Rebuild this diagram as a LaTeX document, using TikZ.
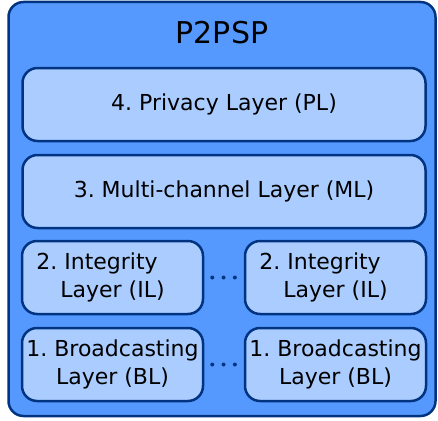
\documentclass[tikz,border=0pt]{standalone}
\usepackage{fontspec}
\setmainfont{DejaVu Sans}
\usepackage{tikz}
\usetikzlibrary{positioning}
\definecolor{stackblue}{RGB}{85,153,255}
\definecolor{layerblue}{RGB}{170,204,255}
\definecolor{edgenavy}{RGB}{0,51,128}

\begin{document}
\frenchspacing
\begin{tikzpicture}[x=1pt, y=1pt,
  stack/.style={rectangle, draw=edgenavy, line width=2.5pt, fill=stackblue,
                rounded corners=15pt, minimum width=427pt, minimum height=414pt},
  layer/.style={rectangle, draw=edgenavy, line width=2.5pt, fill=layerblue,
                rounded corners=15pt, minimum width=#1, minimum height=73pt,
                align=center, inner sep=0pt,
                font=\fontsize{22}{28}\selectfont},
  layer/.default=403pt,
  more/.style={edgenavy, line width=4pt, line cap=round,
               dash pattern=on 0pt off 11.3pt, shorten <=8pt, shorten >=8pt},
]
  \useasboundingbox (0,0) rectangle (438,-420);

  \node[stack] (p2psp) at (222,-209) {};
  \node[font=\fontsize{30}{36}\selectfont] (title) at (222,-33) {P2PSP};

  \node[layer] (pl) at (224,-104.5) {4. Privacy Layer (PL)};
  \node[layer] (ml) at (224,-191.5) {3. Multi-channel Layer (ML)};

  \node[layer=181pt] (il1) at (112.5,-277.5) {2. Integrity\hspace*{1.4em}\\Layer (IL)};
  \node[layer=181pt] (il2) at (335.5,-277.5) {2. Integrity\hspace*{1.4em}\\Layer (IL)};
  \node[layer=181pt] (bl1) at (112.5,-364.5) {1. Broadcasting\\Layer (BL)};
  \node[layer=181pt] (bl2) at (335.5,-364.5) {1. Broadcasting\\Layer (BL)};

  % more peers in between
  \draw[more] (il1) -- (il2);
  \draw[more] (bl1) -- (bl2);
\end{tikzpicture}
\end{document}
